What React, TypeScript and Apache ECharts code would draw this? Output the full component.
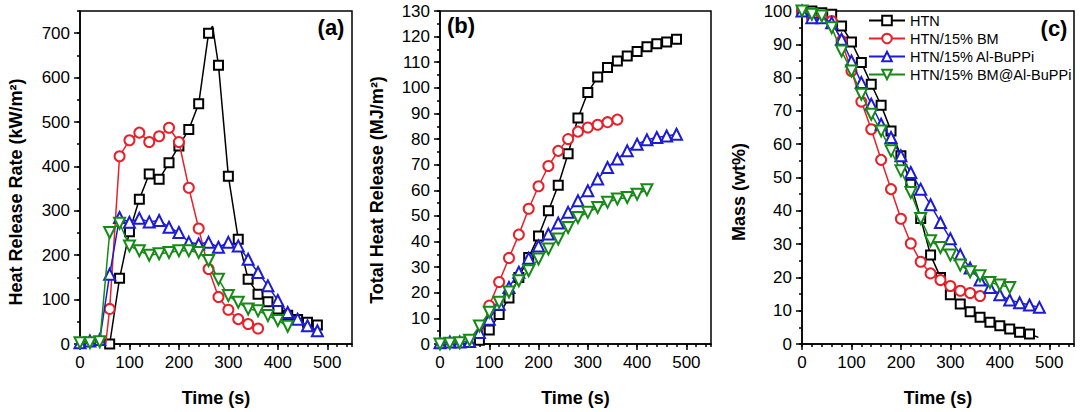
import React, { useEffect, useRef } from 'react';
import * as echarts from 'echarts';

// ---------- series names ----------
const seriesNames = ['HTN', 'HTN/15% BM', 'HTN/15% Al-BuPPi', 'HTN/15% BM@Al-BuPPi'];

// ---------- tick labels ----------
const timeTicks = [0, 100, 200, 300, 400, 500];
const hrrTicks = [0, 100, 200, 300, 400, 500, 600, 700];

// ---------- (a) Heat Release Rate (kW/m2) ----------
const hrrHTNTime = [60, 80, 100, 120, 140, 160, 180, 200, 220, 240, 260, 268, 280, 300, 320, 340, 360, 380, 400, 420, 440, 460, 480];
const hrrHTN = [0, 148, 253, 326, 383, 371, 408, 446, 483, 541, 700, 716, 628, 378, 236, 146, 112, 95, 79, 65, 55, 49, 43];

const hrrBMTime = [52, 60, 80, 100, 120, 140, 160, 180, 200, 220, 240, 260, 280, 300, 320, 340, 360];
const hrrBM = [0, 79, 423, 459, 476, 455, 468, 487, 455, 352, 260, 169, 106, 77, 56, 45, 35];

const hrrAlTime = [0, 20, 40, 60, 80, 100, 120, 140, 160, 180, 200, 220, 240, 260, 280, 300, 320, 340, 360, 380, 400, 420, 440, 460, 480];
const hrrAl = [3, 7, 10, 157, 285, 274, 283, 275, 278, 263, 251, 229, 225, 229, 218, 229, 221, 191, 161, 131, 98, 71, 56, 41, 30];

const hrrBMAlTime = [0, 20, 40, 60, 80, 100, 120, 140, 160, 180, 200, 220, 240, 260, 280, 300, 320, 340, 360, 380, 400, 420];
const hrrBMAl = [3, 3, 5, 251, 272, 221, 210, 200, 203, 206, 210, 210, 206, 188, 146, 109, 94, 79, 75, 64, 53, 40];

// ---------- (b) Total Heat Release (MJ/m2) ----------
const thrHTNTime = [80, 100, 120, 140, 160, 180, 200, 220, 240, 260, 280, 300, 320, 340, 360, 380, 400, 420, 440, 460, 480];
const thrHTN = [1.5, 5.5, 11.5, 18, 26, 33.8, 42.2, 52, 62, 74.3, 88.2, 98.2, 104.2, 107.9, 110.5, 112.4, 114.2, 116, 117.2, 117.9, 119];

const thrBMTime = [84, 100, 120, 140, 160, 180, 200, 220, 240, 260, 280, 300, 320, 340, 360];
const thrBM = [3, 15, 24.2, 33.6, 42.7, 52.8, 61.6, 69.5, 75.4, 80, 82.9, 84.5, 85.6, 86.6, 87.6];

const thrAlTime = [0, 20, 40, 60, 80, 100, 120, 140, 160, 180, 200, 220, 240, 260, 280, 300, 320, 340, 360, 380, 400, 420, 440, 460, 480];
const thrAl = [0.5, 0.8, 0.8, 1, 4.5, 9.7, 15.5, 22.1, 28, 33.5, 38.3, 42.9, 47.2, 51.4, 55.9, 59.8, 64.4, 68.9, 72.2, 75.4, 78, 79.7, 80.6, 81.2, 81.9];

const thrBMAlTime = [0, 20, 40, 60, 80, 100, 120, 140, 160, 180, 200, 220, 240, 260, 280, 300, 320, 340, 360, 380, 400, 420];
const thrBMAl = [0, 0.3, 0.5, 1.5, 7, 12.4, 16.3, 20.3, 24.7, 28.6, 33.2, 37.1, 41, 45.5, 49.4, 51.4, 53.3, 55.3, 56.6, 57.2, 58.5, 60.2];

// ---------- (c) Mass (wt%) ----------
const massHTNTime = [0, 20, 40, 60, 80, 100, 120, 140, 160, 180, 200, 220, 240, 260, 280, 300, 320, 340, 360, 380, 400, 420, 440, 460, 478];
const massHTN = [100, 100, 99.5, 99, 95.5, 90.7, 84.5, 78, 71.7, 64, 56.5, 48, 37.7, 26.7, 20, 14.8, 12, 9.7, 8, 6.5, 5.5, 4.5, 3.5, 3, 2];

const massBMTime = [0, 20, 40, 60, 80, 100, 120, 140, 160, 180, 200, 220, 240, 260, 280, 300, 320, 340, 360];
const massBM = [100, 98, 98, 97, 91, 82, 72.8, 64.5, 55.3, 46.5, 37.6, 30.2, 24.7, 21.2, 19.2, 17.4, 16, 15.3, 14.4];

const massAlTime = [0, 20, 40, 60, 80, 100, 120, 140, 160, 180, 200, 220, 240, 260, 280, 300, 320, 340, 360, 380, 400, 420, 440, 460, 480];
const massAl = [100, 98, 98, 96.5, 91.5, 85, 78.5, 72, 66, 62, 56.5, 51.5, 46.5, 41.8, 36.5, 31.6, 26.8, 22.8, 19.2, 17, 14.8, 13.2, 12.4, 11.7, 11];

const massBMAlTime = [0, 20, 40, 60, 80, 100, 120, 140, 160, 180, 200, 220, 240, 260, 280, 300, 320, 340, 360, 380, 400, 420];
const massBMAl = [100, 99, 98.5, 95, 88, 82, 75, 69, 64, 58, 52, 45.5, 37.7, 31, 29, 26.7, 23.7, 21.7, 20.5, 18.5, 17.7, 17];

// ---------- styles ----------
const FONT = '"Liberation Sans", Arial, Helvetica, sans-serif';
const COLORS = ['#000000', '#e8202a', '#1c1cd6', '#168a16'];
const SYMBOLS = ['emptyRect', 'emptyCircle', 'emptyTriangle', 'emptyTriangle'];
const SYMBOL_SIZES = [9, 10, 11, 11];
const SYMBOL_ROT = [0, 0, 0, 180];

const pairs = (t: number[], v: number[]) =>
  t.map((x, i) => (x % 20 === 0 ? { value: [x, v[i]] } : { value: [x, v[i]], symbol: 'none' }));

const panels = [
  { times: [hrrHTNTime, hrrBMTime, hrrAlTime, hrrBMAlTime], vals: [hrrHTN, hrrBM, hrrAl, hrrBMAl] },
  { times: [thrHTNTime, thrBMTime, thrAlTime, thrBMAlTime], vals: [thrHTN, thrBM, thrAl, thrBMAl] },
  { times: [massHTNTime, massBMTime, massAlTime, massBMAlTime], vals: [massHTN, massBM, massAl, massBMAl] },
];

const grids = [
  { left: 80, top: 11, width: 272, height: 334 },
  { left: 440, top: 11, width: 271, height: 334 },
  { left: 802, top: 11, width: 272, height: 334 },
];

const yCfg = [
  { max: 750, interval: 100, minor: 50, labels: hrrTicks },
  { max: 130, interval: 10, minor: 5, labels: null as number[] | null },
  { max: 100, interval: 10, minor: 5, labels: null as number[] | null },
];

const lineStyle = { color: '#000', width: 1.5 };

function buildOption() {
  const xAxis: any[] = [];
  const yAxis: any[] = [];
  const series: any[] = [];
  grids.forEach((g, gi) => {
    xAxis.push({
      type: 'value', gridIndex: gi, position: 'bottom', min: 0, max: 550, interval: 100,
      axisLine: { show: true, onZero: false, lineStyle },
      axisTick: { show: true, length: 6, lineStyle, customValues: timeTicks },
      axisLabel: {
        color: '#000', fontSize: 17, fontFamily: FONT, margin: 10, customValues: timeTicks,
        formatter: (v: number) => (v % 100 === 0 ? String(v) : ''),
      },
      splitLine: { show: false },
      name: 'Time (s)', nameLocation: 'middle', nameGap: 45,
      nameTextStyle: { color: '#000', fontSize: 18, fontWeight: 'bold', fontFamily: FONT },
    });
    xAxis.push({
      type: 'value', gridIndex: gi, position: 'bottom', min: 0, max: 550, interval: 20,
      axisLine: { show: false, onZero: false },
      axisTick: { show: true, length: 3, lineStyle },
      axisLabel: { show: false },
      splitLine: { show: false },
    });
    const yc = yCfg[gi];
    yAxis.push({
      type: 'value', gridIndex: gi, position: 'left', min: 0, max: yc.max, interval: yc.interval,
      axisLine: { show: true, onZero: false, lineStyle },
      axisTick: { show: true, length: 6, lineStyle, ...(yc.labels ? { customValues: yc.labels } : {}) },
      axisLabel: {
        color: '#000', fontSize: 17, fontFamily: FONT, margin: 10,
        ...(yc.labels ? { customValues: yc.labels } : {}),
        formatter: (v: number) => (v % yc.interval === 0 ? String(v) : ''),
      },
      splitLine: { show: false },
    });
    yAxis.push({
      type: 'value', gridIndex: gi, position: 'left', min: 0, max: yc.max, interval: yc.minor,
      axisLine: { show: false, onZero: false },
      axisTick: { show: true, length: 3, lineStyle },
      axisLabel: { show: false },
      splitLine: { show: false },
    });
    const p = panels[gi];
    for (let s = 0; s < 4; s++) {
      series.push({
        type: 'line', name: seriesNames[s],
        xAxisIndex: gi * 2, yAxisIndex: gi * 2,
        data: pairs(p.times[s], p.vals[s]),
        symbol: SYMBOLS[s], symbolSize: SYMBOL_SIZES[s], symbolRotate: SYMBOL_ROT[s],
        showAllSymbol: true,
        lineStyle: { color: COLORS[s], width: 1.5 },
        itemStyle: { color: COLORS[s], borderColor: COLORS[s], borderWidth: 1.5 },
        emphasis: { disabled: true },
        z: 2 + s,
      });
    }
  });

  const tStyle = (text: string, size: number) => ({
    text, fontSize: size, fontWeight: 'bold', fontFamily: FONT, fill: '#000',
    align: 'center', verticalAlign: 'middle', textAlign: 'center', textVerticalAlign: 'middle',
  });

  const graphic: any[] = [
    { type: 'text', x: 16, y: 192, rotation: Math.PI / 2, style: tStyle('Heat Release Rate (kW/m²)', 18) },
    { type: 'text', x: 377, y: 190, rotation: Math.PI / 2, style: tStyle('Total Heat Release (MJ/m²)', 18) },
    { type: 'text', x: 739, y: 192, rotation: Math.PI / 2, style: tStyle('Mass (wt%)', 18) },
    { type: 'text', x: 331, y: 27, style: tStyle('(a)', 22) },
    { type: 'text', x: 461, y: 25, style: tStyle('(b)', 22) },
    { type: 'text', x: 1054, y: 28, style: tStyle('(c)', 22) },
  ];

  return {
    animation: false,
    backgroundColor: '#ffffff',
    grid: grids.map((g) => ({ ...g, show: true, borderColor: '#000', borderWidth: 1.5, backgroundColor: 'transparent', containLabel: false })),
    xAxis,
    yAxis,
    legend: {
      data: seriesNames,
      orient: 'vertical',
      left: 868,
      top: 12,
      padding: 0,
      itemWidth: 36,
      itemHeight: 12,
      itemGap: 1,
      selectedMode: false,
      textStyle: { color: '#000', fontSize: 14.5, fontFamily: FONT, lineHeight: 17 },
    },
    graphic,
    series,
  };
}

export default function App() {
  const ref = useRef<HTMLDivElement>(null);
  useEffect(() => {
    if (!ref.current) return;
    const chart = echarts.init(ref.current, undefined, { renderer: 'svg' });
    chart.setOption(buildOption() as any);
    return () => chart.dispose();
  }, []);
  return (
    <div
      ref={ref}
      style={{ position: 'absolute', left: 0, top: 0, width: 1080, height: 412, background: '#fff' }}
    />
  );
}
